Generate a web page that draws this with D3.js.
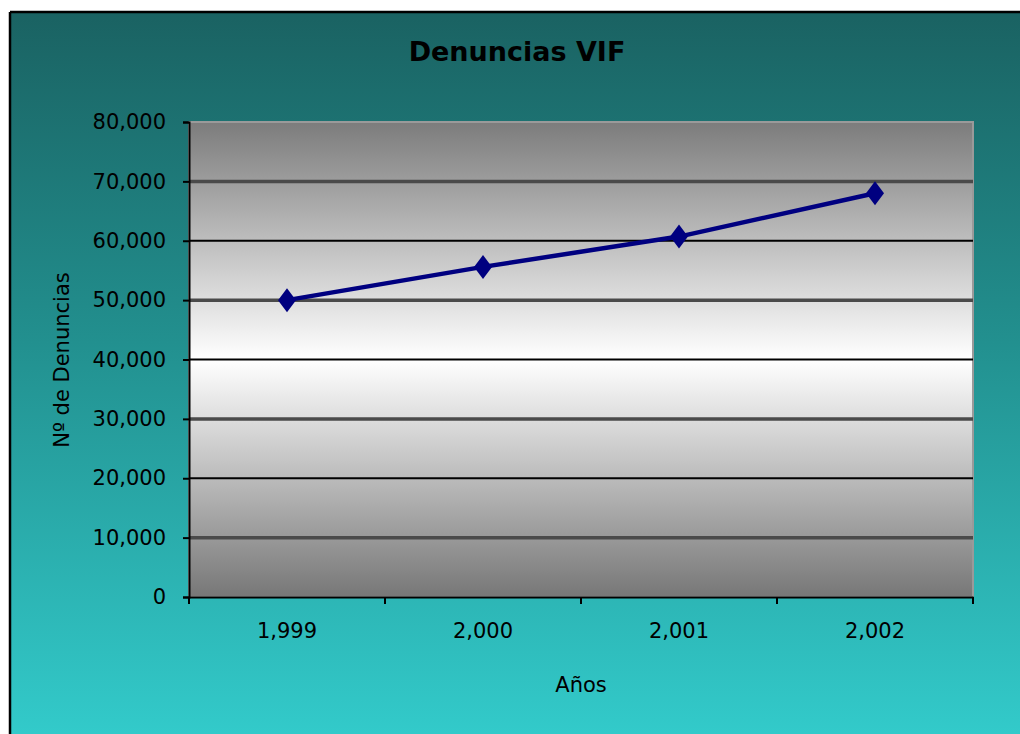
<!DOCTYPE html>
<html>
<head>
<meta charset="utf-8">
<script src="https://cdn.jsdelivr.net/npm/d3@7"></script>
<style>
  html, body { margin: 0; padding: 0; background: #ffffff; overflow: hidden; }
  svg { display: block; }
  text { font-family: "DejaVu Sans", Verdana, sans-serif; fill: #000; }
</style>
</head>
<body>
<svg id="chart" width="1020" height="734"></svg>
<script>
// ---- data ----
const years = [1999, 2000, 2001, 2002];
const denuncias = [50000, 55600, 60700, 68000];
const yTickValues = [0, 10000, 20000, 30000, 40000, 50000, 60000, 70000, 80000];
const chartTitle = "Denuncias VIF";
const xTitle = "Años";
const yTitle = "Nº de Denuncias";

// ---- layout ----
const W = 1020, H = 734;
const plot = { left: 189, right: 973, top: 122, bottom: 597 };
const svg = d3.select("#chart");
const defs = svg.append("defs");

const bgGrad = defs.append("linearGradient").attr("id", "bg")
  .attr("x1", 0).attr("y1", 0).attr("x2", 0).attr("y2", 1);
bgGrad.append("stop").attr("offset", "0%").attr("stop-color", "#1a6262");
bgGrad.append("stop").attr("offset", "45%").attr("stop-color", "#22908f");
bgGrad.append("stop").attr("offset", "100%").attr("stop-color", "#33cccc");

const plotGrad = defs.append("linearGradient").attr("id", "plotbg")
  .attr("x1", 0).attr("y1", 0).attr("x2", 0).attr("y2", 1);
plotGrad.append("stop").attr("offset", "0%").attr("stop-color", "#7c7c7c");
plotGrad.append("stop").attr("offset", "50%").attr("stop-color", "#ffffff");
plotGrad.append("stop").attr("offset", "100%").attr("stop-color", "#777777");

// chart background + border
svg.append("rect").attr("x", 10).attr("y", 12).attr("width", W + 20).attr("height", H)
  .attr("fill", "url(#bg)");
svg.append("line").attr("x1", 10).attr("x2", 10).attr("y1", 12).attr("y2", H)
  .attr("stroke", "#000").attr("stroke-width", 2.5);
svg.append("line").attr("x1", 10).attr("x2", W + 10).attr("y1", 12).attr("y2", 12)
  .attr("stroke", "#000").attr("stroke-width", 2.5);

// scales
const x = d3.scaleBand().domain(years).range([plot.left, plot.right]).padding(0);
const y = d3.scaleLinear().domain([0, 80000]).range([plot.bottom, plot.top]);

// plot area
svg.append("rect")
  .attr("x", plot.left).attr("y", plot.top)
  .attr("width", plot.right - plot.left).attr("height", plot.bottom - plot.top)
  .attr("fill", "url(#plotbg)")
  .attr("stroke", "#9a9a9a").attr("stroke-width", 2);

// gridlines
svg.append("g").selectAll("line")
  .data(yTickValues.filter(v => v > 0 && v < 80000))
  .join("line")
  .attr("x1", plot.left).attr("x2", plot.right)
  .attr("y1", d => y(d)).attr("y2", d => y(d))
  .attr("stroke", (d, i) => i % 2 === 0 ? "#4a4a4a" : "#000")
  .attr("stroke-width", (d, i) => i % 2 === 0 ? 3.5 : 2);

// y axis
const yAxis = svg.append("g")
  .attr("transform", `translate(${plot.left},0)`)
  .call(d3.axisLeft(y).tickValues(yTickValues).tickFormat(d3.format(",")).tickSize(6).tickPadding(17));
yAxis.select(".domain").attr("stroke", "#000").attr("stroke-width", 2);
yAxis.selectAll(".tick line").attr("stroke", "#000").attr("stroke-width", 2);
yAxis.selectAll(".tick text")
  .style("font-family", "'DejaVu Sans', Verdana, sans-serif")
  .attr("font-size", 21).attr("fill", "#000");

// x axis
const xAxis = svg.append("g")
  .attr("transform", `translate(0,${plot.bottom})`)
  .call(d3.axisBottom(x).tickFormat(d3.format(",")).tickSize(0).tickPadding(26));
xAxis.select(".domain").attr("stroke", "#000").attr("stroke-width", 2);
xAxis.selectAll(".tick text")
  .style("font-family", "'DejaVu Sans', Verdana, sans-serif")
  .attr("font-size", 21).attr("fill", "#000");
const bounds = years.map(d => x(d)).concat([x(years[years.length - 1]) + x.bandwidth()]);
xAxis.selectAll(".bt").data(bounds).join("line").attr("class", "bt")
  .attr("x1", d => d).attr("x2", d => d).attr("y1", 0).attr("y2", 7)
  .attr("stroke", "#000").attr("stroke-width", 2);

// line
const pts = years.map((yr, i) => ({ yr, v: denuncias[i] }));
const cx = d => x(d.yr) + x.bandwidth() / 2;
svg.append("path").datum(pts)
  .attr("d", d3.line().x(cx).y(d => y(d.v)))
  .attr("fill", "none").attr("stroke", "#000080").attr("stroke-width", 4.5);

// diamond markers
svg.append("g").selectAll("path").data(pts).join("path")
  .attr("transform", d => `translate(${cx(d)},${y(d.v)})`)
  .attr("d", "M0,-12L9,0L0,12L-9,0Z")
  .attr("fill", "#000080");

// titles
svg.append("text").attr("x", 517).attr("y", 61).attr("text-anchor", "middle")
  .attr("font-size", 27).attr("font-weight", "bold").text(chartTitle);
svg.append("text").attr("x", (plot.left + plot.right) / 2).attr("y", 692).attr("text-anchor", "middle")
  .attr("font-size", 21).text(xTitle);
svg.append("text").attr("transform", "translate(69,360) rotate(-90)").attr("text-anchor", "middle")
  .attr("font-size", 21).text(yTitle);
</script>
</body>
</html>
